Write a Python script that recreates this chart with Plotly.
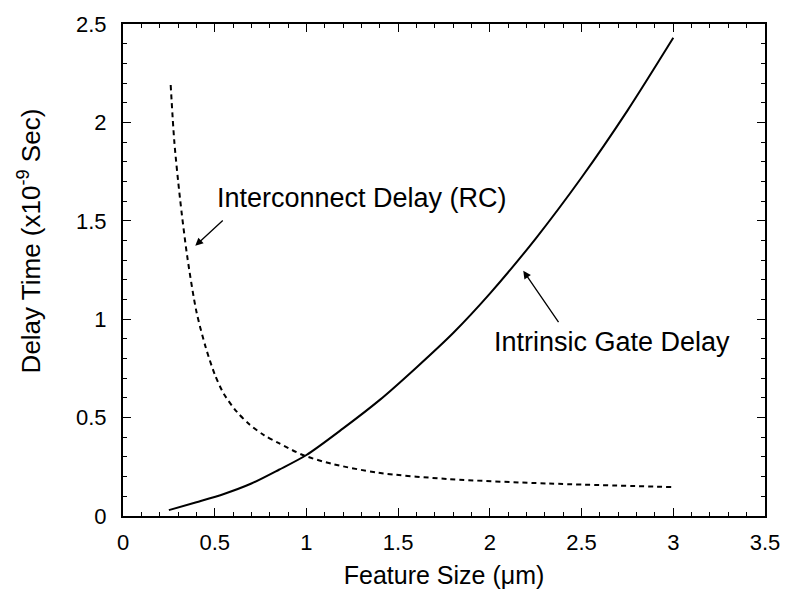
import plotly.graph_objects as go

# Intrinsic gate delay (solid)
gate_x = [0.25, 0.40, 0.55, 0.70, 0.85, 1.00, 1.20, 1.40, 1.60, 1.80, 2.00, 2.25, 2.50, 2.75, 3.00]
gate_y = [0.03, 0.07, 0.112, 0.165, 0.235, 0.31, 0.445, 0.59, 0.755, 0.93, 1.13, 1.41, 1.72, 2.06, 2.43]

# Interconnect delay (dashed)
rc_x = [0.26, 0.28, 0.31, 0.35, 0.40, 0.45, 0.50, 0.55, 0.62, 0.69, 0.77, 0.85, 0.98, 1.14,
        1.39, 1.77, 2.32, 3.00]
rc_y = [2.19, 1.90, 1.62, 1.32, 1.04, 0.86, 0.72, 0.62, 0.53, 0.465, 0.41, 0.37, 0.31, 0.265,
        0.22, 0.188, 0.165, 0.147]

x_ticks = [0, 0.5, 1, 1.5, 2, 2.5, 3, 3.5]
y_ticks = [0, 0.5, 1, 1.5, 2, 2.5]

FONT = "Liberation Sans, Arial, sans-serif"

fig = go.Figure()
fig.add_trace(go.Scatter(x=gate_x, y=gate_y, mode="lines",
                         line=dict(color="black", width=2, shape="spline", smoothing=0.8),
                         showlegend=False))
fig.add_trace(go.Scatter(x=rc_x, y=rc_y, mode="lines",
                         line=dict(color="black", width=2, dash="5px,4px", shape="spline", smoothing=0.8),
                         showlegend=False))

fig.add_annotation(x=0.394, y=1.373, ax=0.552, ay=1.509, xref="x", yref="y", axref="x", ayref="y",
                   text="", showarrow=True, arrowhead=2, arrowsize=1.2, arrowwidth=1.3, arrowcolor="black")
fig.add_annotation(x=2.182, y=1.246, ax=2.38, ay=0.977, xref="x", yref="y", axref="x", ayref="y",
                   text="", showarrow=True, arrowhead=2, arrowsize=1.2, arrowwidth=1.3, arrowcolor="black")

fig.add_annotation(x=0.5, y=1.615, xref="x", yref="y", text="Interconnect Delay (RC)",
                   showarrow=False, xanchor="left", yanchor="middle",
                   font=dict(family=FONT, size=27, color="black"))
fig.add_annotation(x=2.01, y=0.885, xref="x", yref="y", text="Intrinsic Gate Delay",
                   showarrow=False, xanchor="left", yanchor="middle",
                   font=dict(family=FONT, size=27, color="black"))

fig.add_annotation(x=-0.145, y=0.56, xref="paper", yref="paper", text="Delay Time (x10<sup>-9</sup> Sec)",
                   showarrow=False, textangle=-90, xanchor="center", yanchor="middle",
                   font=dict(family=FONT, size=26, color="black"))

axis_common = dict(
    showgrid=False, zeroline=False, showline=True, linecolor="black", linewidth=2,
    mirror="allticks", ticks="inside", ticklen=8, tickwidth=1.2, tickcolor="black",
    tickfont=dict(family=FONT, size=22, color="black"),
    minor=dict(ticks="inside", ticklen=4, tickwidth=1, tickcolor="black", dtick=0.1),
)

fig.update_xaxes(range=[0, 3.5], tickvals=x_ticks, ticktext=[str(v) for v in x_ticks],
                 ticklabelstandoff=6,
                 title=dict(text="Feature Size (\u03bcm)", font=dict(family=FONT, size=25, color="black"), standoff=12),
                 **axis_common)
fig.update_yaxes(range=[0, 2.5], tickvals=y_ticks, ticktext=[str(v) for v in y_ticks],
                 ticklabelstandoff=10, **axis_common)

fig.update_layout(width=792, height=600, margin=dict(l=123, r=24, t=19, b=84),
                  plot_bgcolor="white", paper_bgcolor="white",
                  font=dict(family=FONT, color="black"))

fig.write_html("out.html")
